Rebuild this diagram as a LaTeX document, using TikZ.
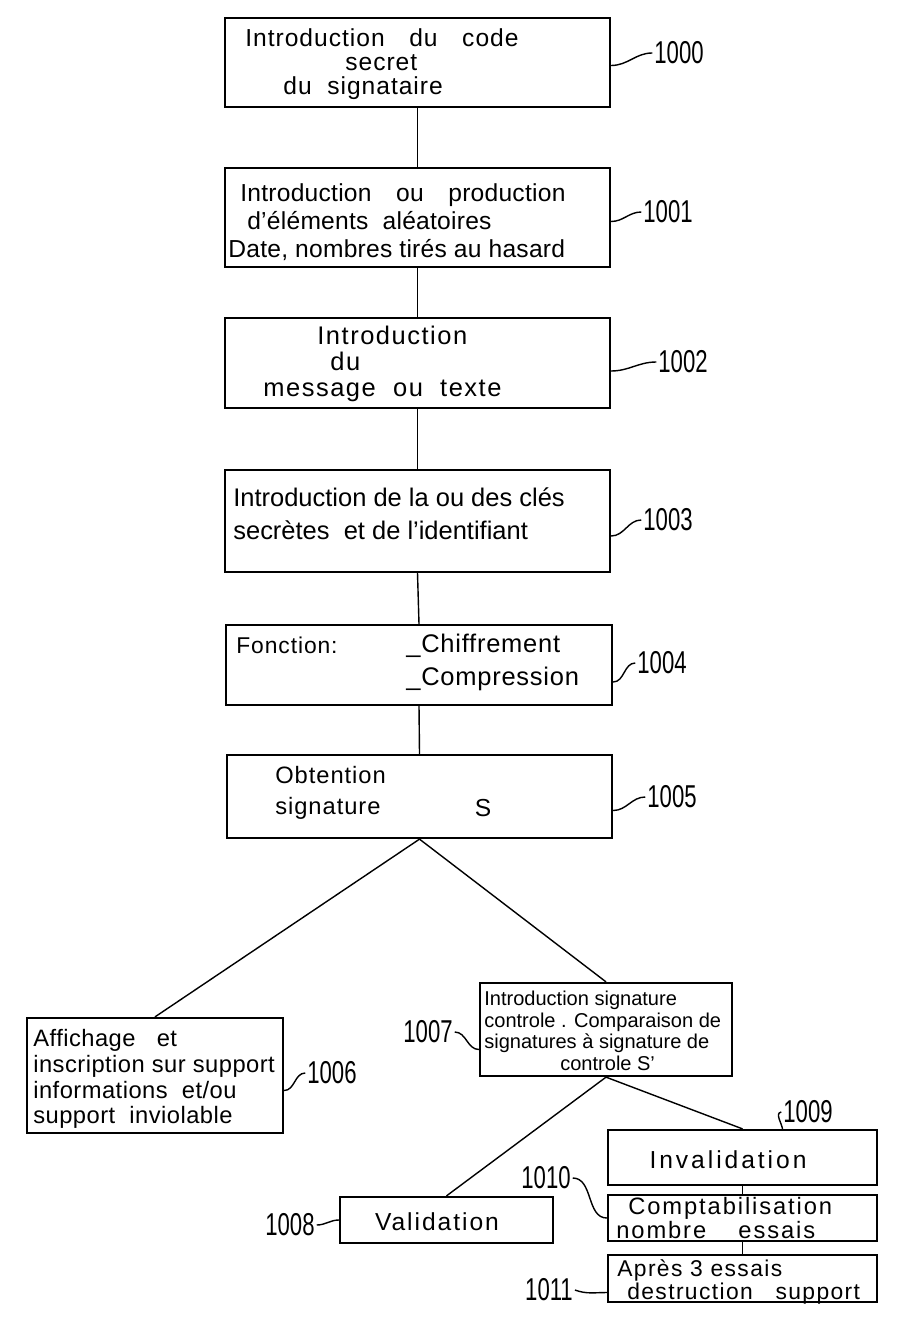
\documentclass[tikz,border=0pt]{standalone}
\usepackage{fontspec}
\usepackage{graphicx}
\setmainfont{Liberation Sans}
\usetikzlibrary{calc}
\newcommand\reflbl[1]{\scalebox{0.7}[1]{#1}}
\newcommand\lsp[1]{\addfontfeature{LetterSpace=#1}}
\begin{document}
\begin{tikzpicture}[x=0.02cm,y=-0.02cm,
  boxnode/.style={draw,line width=1.3pt,inner sep=0pt},
  txt/.style={inner sep=0pt,align=left,font=\fontsize{13pt}{15pt}\selectfont},
  reftxt/.style={inner sep=1pt,font=\fontsize{18pt}{18pt}\selectfont},
  link/.style={line width=0.8pt},
  leader/.style={line width=0.8pt}]
\useasboundingbox[fill=white] (0,0) rectangle (900,1324);
% boxes
\node[boxnode,minimum width=7.7cm,minimum height=1.78cm] (b1000) at (417.5,62.5) {};
\node[boxnode,minimum width=7.7cm,minimum height=1.98cm] (b1001) at (417.5,217.5) {};
\node[boxnode,minimum width=7.7cm,minimum height=1.8cm] (b1002) at (417.5,363) {};
\node[boxnode,minimum width=7.7cm,minimum height=2.04cm] (b1003) at (417.5,521) {};
\node[boxnode,minimum width=7.72cm,minimum height=1.6cm] (b1004) at (419,665) {};
\node[boxnode,minimum width=7.7cm,minimum height=1.66cm] (b1005) at (419.5,796.5) {};
\node[boxnode,minimum width=5.12cm,minimum height=2.3cm] (b1006) at (155,1075.5) {};
\node[boxnode,minimum width=5.04cm,minimum height=1.86cm] (b1007) at (606,1029.5) {};
\node[boxnode,minimum width=4.26cm,minimum height=0.92cm] (b1008) at (446.5,1220) {};
\node[boxnode,minimum width=5.38cm,minimum height=1.1cm] (b1009) at (742.5,1157.5) {};
\node[boxnode,minimum width=5.38cm,minimum height=0.92cm] (b1010) at (742.5,1218) {};
\node[boxnode,minimum width=5.38cm,minimum height=0.94cm] (b1011) at (742.5,1278.5) {};
% texts
\node[txt,anchor=west,font=\fontsize{14pt}{13.6pt}\selectfont\lsp{4}] (t1000) at (245,64) {Introduction\quad du\quad code\\\hspace*{2cm}secret\\\hspace*{0.76cm}du\ \ signataire};
\node[txt,anchor=west,font=\fontsize{14pt}{16pt}\selectfont\lsp{1}] (t1001) at (228,222) {\hspace*{0.24cm}Introduction\quad ou\quad production\\\hspace*{0.38cm}d'éléments\ \ aléatoires\\Date, nombres tirés au hasard};
\node[txt,anchor=west,font=\fontsize{14.5pt}{14.7pt}\selectfont\lsp{6}] (t1002) at (263,364) {\hspace*{1.08cm}Introduction\\\hspace*{1.34cm}du\\message\ \ ou\ \ texte};
\node[txt,anchor=west,font=\fontsize{14.5pt}{18.7pt}\selectfont] (t1003) at (233,514) {Introduction de la ou des clés\\secrètes\ \ et\ de l'identifiant};
\node[txt,anchor=west,font=\fontsize{13pt}{15pt}\selectfont\lsp{4}] (t1004a) at (236,645) {Fonction:};
\node[txt,anchor=west,font=\fontsize{14.5pt}{18.7pt}\selectfont\lsp{3}] (t1004b) at (406,662) {\_Chiffrement\\\_Compression};
\node[txt,anchor=west,font=\fontsize{13.5pt}{17.6pt}\selectfont\lsp{4}] (t1005a) at (275,793) {Obtention\\signature};
\node[txt,font=\fontsize{14pt}{15pt}\selectfont] (t1005b) at (483,808) {S};
\node[txt,anchor=west,font=\fontsize{13.5pt}{14.7pt}\selectfont\lsp{2}] (t1006) at (33,1079) {Affichage\ \ \ et\\inscription sur support\\informations\ \ et/ou\\support\ \ inviolable};
\node[txt,anchor=west,font=\fontsize{11.4pt}{12.3pt}\selectfont] (t1007) at (484,1031) {Introduction signature\\controle . Comparaison de\\signatures à signature de\\\hspace*{1.52cm}controle S'};
\node[txt,font=\fontsize{14pt}{15pt}\selectfont\lsp{8}] (t1008) at (437,1222) {Validation};
\node[txt,font=\fontsize{14pt}{15pt}\selectfont\lsp{12}] (t1009) at (728,1160) {Invalidation};
\node[txt,anchor=west,font=\fontsize{13.5pt}{12pt}\selectfont\lsp{8}] (t1010) at (616,1218) {\hspace*{0.24cm}Comptabilisation\\nombre\quad\ essais};
\node[txt,anchor=west,font=\fontsize{13pt}{11.5pt}\selectfont\lsp{6}] (t1011) at (617,1282) {Après 3 essais\\\hspace*{0.2cm}destruction\quad support};
% reference labels
\node[reftxt] (l1000) at (679,53) {\reflbl{1000}};
\node[reftxt] (l1001) at (668,212) {\reflbl{1001}};
\node[reftxt] (l1002) at (683,362) {\reflbl{1002}};
\node[reftxt] (l1003) at (668,520) {\reflbl{1003}};
\node[reftxt] (l1004) at (662,663) {\reflbl{1004}};
\node[reftxt] (l1005) at (672,797) {\reflbl{1005}};
\node[reftxt] (l1006) at (332,1073) {\reflbl{1006}};
\node[reftxt] (l1007) at (428,1032) {\reflbl{1007}};
\node[reftxt] (l1008) at (290,1225) {\reflbl{1008}};
\node[reftxt] (l1009) at (808,1112) {\reflbl{1009}};
\node[reftxt] (l1010) at (546,1178) {\reflbl{1010}};
\node[reftxt] (l1011) at (549,1290) {\reflbl{1011}};
% connectors
\draw[link] (b1000.south) -- (b1001.north);
\draw[link] (b1001.south) -- (b1002.north);
\draw[link] (b1002.south) -- (b1003.north);
\draw[link] (b1003.south) -- (b1004.north);
\draw[link] (b1004.south) -- (b1005.north);
\draw[link] (b1005.south) -- (b1006.north);
\draw[link] (b1005.south) -- (b1007.north);
\draw[link] (b1007.south) -- (b1008.north);
\draw[link] (b1007.south) -- (b1009.north);
\draw[link] (b1009.south) -- (b1010.north);
\draw[link] (b1010.south) -- (b1011.north);
% leaders
\draw[leader] ($(b1000.east)+(0,3)$) to[out=0,in=180] (l1000.west);
\draw[leader] ($(b1001.east)+(0,4)$) to[out=0,in=180] (l1001.west);
\draw[leader] ($(b1002.east)+(0,8)$) to[out=0,in=180] (l1002.west);
\draw[leader] ($(b1003.east)+(0,15)$) to[out=0,in=180] (l1003.west);
\draw[leader] ($(b1004.east)+(0,17)$) to[out=0,in=180] (l1004.west);
\draw[leader] ($(b1005.east)+(0,14)$) to[out=0,in=180] (l1005.west);
\draw[leader] ($(b1006.east)+(0,15)$) to[out=0,in=180] (l1006.west);
\draw[leader] (l1007.east) to[out=0,in=180] ($(b1007.west)+(0,20)$);
\draw[leader] (l1008.east) to[out=0,in=180] (b1008.west);
\draw[leader] ($(b1009.north)+(40,0)$) to[out=100,in=190] (l1009.west);
\draw[leader] (l1010.east) to[out=0,in=180] (b1010.west);
\draw[leader] (l1011.east) to[out=-20,in=180] ($(b1011.west)+(0,14)$);
\end{tikzpicture}
\end{document}
